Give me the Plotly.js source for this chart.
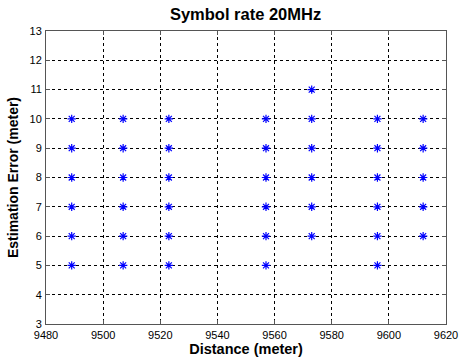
<!DOCTYPE html>
<html>
<head>
<meta charset="utf-8">
<script src="https://cdn.plot.ly/plotly-3.0.1.min.js"></script>
<style>html,body{margin:0;padding:0;background:#fff}#chart{width:459px;height:361px}</style>
</head>
<body>
<div id="chart"></div>
<script>
// distances (meter) of each measurement column
var distances = [9489, 9507, 9523, 9557, 9573, 9596, 9612];
// estimation errors observed at each distance
var errors9489 = [5, 6, 7, 8, 9, 10];
var errors9507 = [5, 6, 7, 8, 9, 10];
var errors9523 = [5, 6, 7, 8, 9, 10];
var errors9557 = [5, 6, 7, 8, 9, 10];
var errors9573 = [6, 7, 8, 9, 10, 11];
var errors9596 = [5, 6, 7, 8, 9, 10];
var errors9612 = [6, 7, 8, 9, 10];
var errorLists = [errors9489, errors9507, errors9523, errors9557, errors9573, errors9596, errors9612];
var xTicks = [9480, 9500, 9520, 9540, 9560, 9580, 9600, 9620];
var yTicks = [3, 4, 5, 6, 7, 8, 9, 10, 11, 12, 13];

var xs = [], ys = [];
distances.forEach(function (d, i) {
  errorLists[i].forEach(function (e) { xs.push(d); ys.push(e); });
});

var font = 'Arial, "Liberation Sans", sans-serif';
var trace = {
  x: xs, y: ys, type: 'scatter', mode: 'markers',
  marker: {symbol: 'asterisk-open', size: 7, color: '#0000ff', line: {color: '#0000ff', width: 1.2}},
  showlegend: false, hoverinfo: 'none'
};
var axisCommon = {
  showgrid: true, gridcolor: '#000000', griddash: 'dot', gridwidth: 1,
  showline: true, linecolor: '#555555', linewidth: 1, mirror: 'ticks',
  ticks: 'inside', ticklen: 4, tickcolor: '#555555', zeroline: false,
  tickfont: {family: font, size: 11, color: '#000'}
};
var layout = {
  width: 459, height: 361,
  margin: {l: 46, r: 13, t: 31, b: 37},
  paper_bgcolor: '#fff', plot_bgcolor: '#fff',
  title: {text: '<b>Symbol rate 20MHz</b>', font: {family: font, size: 16.5, color: '#000'}, x: 0.535, xanchor: 'center', y: 0.96, yanchor: 'middle'},
  xaxis: Object.assign({}, axisCommon, {
    range: [9480, 9620], tickvals: xTicks, ticktext: xTicks.map(String), ticklabelstandoff: 1,
    title: {text: '<b>Distance (meter)</b>', font: {family: font, size: 14.5, color: '#000'}, standoff: 2}
  }),
  yaxis: Object.assign({}, axisCommon, {
    range: [3, 13], tickvals: yTicks, ticktext: yTicks.map(String), ticklabelstandoff: 1,
    title: {text: '<b>Estimation Error (meter)</b>', font: {family: font, size: 14, color: '#000'}, standoff: 7}
  })
};
Plotly.newPlot('chart', [trace], layout, {staticPlot: true, displayModeBar: false});
</script>
</body>
</html>
